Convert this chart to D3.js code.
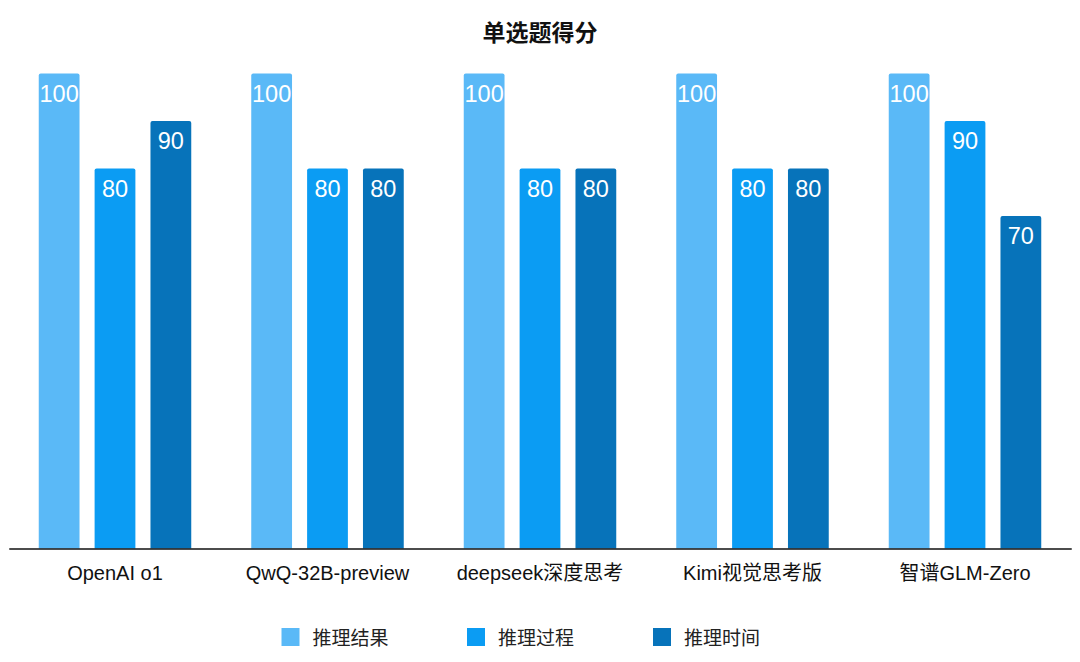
<!DOCTYPE html>
<html><head><meta charset="utf-8">
<script src="https://cdn.jsdelivr.net/npm/d3@7/dist/d3.min.js"></script>
<style>body{margin:0;background:#fff}svg{display:block}</style>
</head><body>
<svg id="c" width="1080" height="662"></svg>
<script>
const categories = ["OpenAI o1","QwQ-32B-preview","deepseek深度思考","Kimi视觉思考版","智谱GLM-Zero"];
const seriesNames = ["推理结果","推理过程","推理时间"];
const result  = [100,100,100,100,100];
const process = [80,80,80,80,90];
const time    = [90,80,80,80,70];
const colors = ["#5ab9f7","#0b9cf3","#0773ba"];
const seriesValues = [result, process, time];

const svg = d3.select("#c");
const font = "'Liberation Sans','Noto Sans CJK SC',Arial,sans-serif";
const left=8.75, right=1071.25, baseY=548.5, topY=73.5;

const x0 = d3.scaleBand().domain(categories).range([left,right]).paddingInner(0).paddingOuter(0);
const x1 = d3.scaleBand().domain(seriesNames).range([30,182.5]).paddingInner(0.27).paddingOuter(0);
const y = d3.scaleLinear().domain([0,100]).range([baseY,topY]);

svg.append("text").attr("x",540).attr("y",41).attr("text-anchor","middle")
  .attr("font-family",font).attr("font-weight","bold").attr("font-size",23).attr("fill","#111").text("单选题得分");

const g = svg.append("g");
categories.forEach((c,i)=>{
  const gx = x0(c);
  seriesNames.forEach((s,j)=>{
    const v = seriesValues[j][i];
    const bx = gx + x1(s), bw = x1.bandwidth(), by = y(v);
    g.append("path")
      .attr("d",`M${bx},${baseY}V${by+2}Q${bx},${by} ${bx+2},${by}H${bx+bw-2}Q${bx+bw},${by} ${bx+bw},${by+2}V${baseY}Z`)
      .attr("fill",colors[j]);
    g.append("text").attr("x",bx+bw/2).attr("y",by+28).attr("text-anchor","middle")
      .attr("font-family",font).attr("font-size",23.5).attr("fill","#fff").text(v);
  });
});

const axis = d3.axisBottom(x0).tickSize(0).tickPadding(0);
const ax = svg.append("g").attr("transform",`translate(0,${baseY})`).call(axis);
ax.select(".domain").attr("stroke","#111").attr("stroke-width",1.5);
ax.selectAll("text").attr("font-family",font).attr("font-size",20).attr("fill","#111")
  .attr("y",31.5).attr("dy","0");

const legX = [281.5,467,653];
seriesNames.forEach((s,j)=>{
  svg.append("rect").attr("x",legX[j]).attr("y",628).attr("width",18).attr("height",18).attr("fill",colors[j]);
  svg.append("text").attr("x",legX[j]+31).attr("y",644.5).attr("font-family",font).attr("font-size",19)
    .attr("fill","#222").text(s);
});
</script>
</body></html>
